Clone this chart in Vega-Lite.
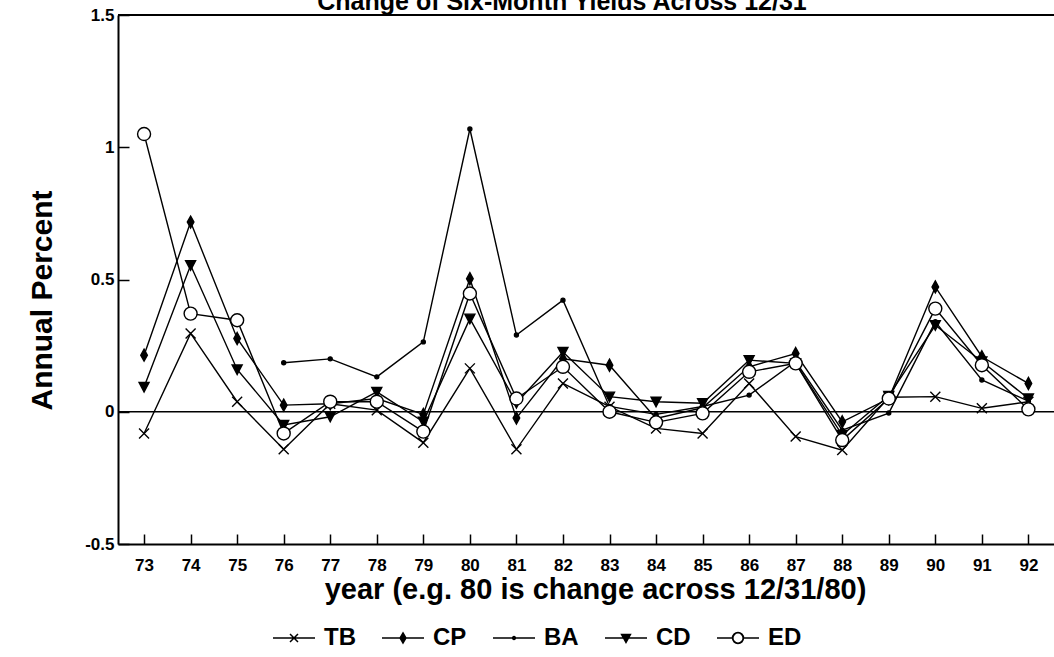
{
  "$schema": "https://vega.github.io/schema/vega-lite/v6.json",
  "width": 936,
  "height": 529,
  "autosize": {"type": "none"},
  "padding": {"left": 118, "top": 15, "right": 0, "bottom": 113},
  "background": "white",
  "view": {"stroke": null},
  "title": {
    "text": "Change of Six-Month Yields Across 12/31",
    "font": "Liberation Sans",
    "fontSize": 25,
    "fontWeight": "bold",
    "color": "black",
    "baseline": "alphabetic",
    "anchor": "middle",
    "dx": -24,
    "offset": -3,
    "dy": 26
  },
  "config": {
    "font": "Liberation Sans",
    "axis": {
      "grid": false,
      "domainColor": "black",
      "domainWidth": 2,
      "tickColor": "black",
      "tickWidth": 1.5,
      "labelColor": "black",
      "labelFont": "Liberation Sans",
      "labelFontWeight": "bold",
      "labelFontSize": 17,
      "titleColor": "black",
      "titleFont": "Liberation Sans",
      "titleFontWeight": "bold"
    },
    "legend": {
      "orient": "none",
      "legendX": 154,
      "legendY": 601,
      "direction": "horizontal",
      "labelFont": "Liberation Sans",
      "labelFontWeight": "bold",
      "labelFontSize": 24,
      "labelColor": "black",
      "symbolSize": 1764,
      "labelOffset": 8,
      "columnPadding": 23,
      "padding": 0
    }
  },
  "resolve": {"scale": {"shape": "independent"}, "legend": {"shape": "independent"}},
  "layer": [
    {
      "data": {"values": [{}]},
      "mark": {"type": "rule", "color": "black", "strokeWidth": 2},
      "encoding": {"y": {"datum": 1.5, "type": "quantitative", "scale": {"domain": [-0.5, 1.5], "nice": false, "zero": false}}}
    },
    {
      "data": {"values": [{}]},
      "mark": {"type": "rule", "color": "black", "strokeWidth": 1.5},
      "encoding": {"y": {"datum": 0, "type": "quantitative"}}
    },
    {
      "data": {"name": "yields"},
      "mark": {"type": "line", "color": "black", "strokeWidth": 1.4},
      "encoding": {
        "x": {"field": "year", "type": "quantitative",
          "scale": {"domain": [72.44, 92.55], "nice": false, "zero": false},
          "axis": {"values": [73,74,75,76,77,78,79,80,81,82,83,84,85,86,87,88,89,90,91,92], "format": "d", "tickSize": -10, "labelPadding": 23, "title": "year (e.g. 80 is change across 12/31/80)", "titleFontSize": 29, "titlePadding": 2, "titleX": 477}},
        "y": {"field": "value", "type": "quantitative",
          "axis": {"values": [-0.5, 0, 0.5, 1, 1.5], "labelExpr": "'' + datum.value", "tickSize": -11, "labelPadding": 15, "title": "Annual Percent", "titleFontSize": 30, "titleX": -76, "titleY": 285, "titleBaseline": "middle", "titleAlign": "center", "titleAngle": -90}},
        "detail": {"field": "series"}
      }
    },
    {
      "data": {"name": "yields"},
      "mark": {"type": "point", "filled": true, "stroke": "black", "strokeWidth": 1.4, "opacity": 1},
      "encoding": {
        "x": {"field": "year", "type": "quantitative"},
        "y": {"field": "value", "type": "quantitative"},
        "shape": {"field": "series", "type": "nominal",
          "scale": {"domain": ["TB", "CP", "BA", "CD", "ED"],
            "range": ["M-1,-1L1,1M-1,1L1,-1", "M0,-1L0.55,0L0,1L-0.55,0Z", "circle", "M-1,-0.9H1L0,1Z", "circle"]},
          "legend": null},
        "fill": {"condition": {"test": "datum.series === 'ED'", "value": "white"}, "value": "black"},
        "size": {"condition": [
          {"test": "datum.series === 'TB'", "value": 100},
          {"test": "datum.series === 'CP'", "value": 144},
          {"test": "datum.series === 'BA'", "value": 16},
          {"test": "datum.series === 'CD'", "value": 100}
        ], "value": 169}
      }
    },
    {
      "data": {"name": "yields"},
      "transform": [{"filter": "false"}],
      "mark": {"type": "point", "filled": true, "fill": "black", "stroke": "black", "strokeWidth": 1.3, "opacity": 1},
      "encoding": {
        "x": {"field": "year", "type": "quantitative"},
        "y": {"field": "value", "type": "quantitative"},
        "shape": {"field": "series", "type": "nominal",
          "scale": {"domain": ["TB", "CP", "BA", "CD", "ED"],
            "range": [
              "M-1,0H1M-0.19,-0.19L0.19,0.19M-0.19,0.19L0.19,-0.19",
              "M-1,0H1M0,-0.24L0.14,0L0,0.24L-0.14,0Z",
              "M-1,0H1M0.07,0A0.07,0.07 0 1 1 -0.07,0A0.07,0.07 0 1 1 0.07,0Z",
              "M-1,0H1M-0.21,-0.17H0.21L0,0.21Z",
              "M-1,0H-0.26M0.26,0H1M0.26,0A0.26,0.26 0 1 1 -0.26,0A0.26,0.26 0 1 1 0.26,0ZM0.245,0A0.245,0.245 0 1 0 -0.245,0A0.245,0.245 0 1 0 0.245,0Z"
            ]},
          "legend": {"title": null}}
      }
    }
  ],
  "datasets": {
    "yields": [
      {"year": 73, "series": "TB", "value": -0.082},
      {"year": 74, "series": "TB", "value": 0.296},
      {"year": 75, "series": "TB", "value": 0.038},
      {"year": 76, "series": "TB", "value": -0.142},
      {"year": 77, "series": "TB", "value": 0.03},
      {"year": 78, "series": "TB", "value": 0.006},
      {"year": 79, "series": "TB", "value": -0.117},
      {"year": 80, "series": "TB", "value": 0.164},
      {"year": 81, "series": "TB", "value": -0.142},
      {"year": 82, "series": "TB", "value": 0.107},
      {"year": 83, "series": "TB", "value": 0.019},
      {"year": 84, "series": "TB", "value": -0.063},
      {"year": 85, "series": "TB", "value": -0.082},
      {"year": 86, "series": "TB", "value": 0.107},
      {"year": 87, "series": "TB", "value": -0.094},
      {"year": 88, "series": "TB", "value": -0.145},
      {"year": 89, "series": "TB", "value": 0.055},
      {"year": 90, "series": "TB", "value": 0.057},
      {"year": 91, "series": "TB", "value": 0.013},
      {"year": 92, "series": "TB", "value": 0.038},
      {"year": 73, "series": "CP", "value": 0.214},
      {"year": 74, "series": "CP", "value": 0.717},
      {"year": 75, "series": "CP", "value": 0.277},
      {"year": 76, "series": "CP", "value": 0.025},
      {"year": 77, "series": "CP", "value": 0.03},
      {"year": 78, "series": "CP", "value": 0.05},
      {"year": 79, "series": "CP", "value": -0.01},
      {"year": 80, "series": "CP", "value": 0.503},
      {"year": 81, "series": "CP", "value": -0.024},
      {"year": 82, "series": "CP", "value": 0.2},
      {"year": 83, "series": "CP", "value": 0.176},
      {"year": 84, "series": "CP", "value": -0.025},
      {"year": 85, "series": "CP", "value": 0.015},
      {"year": 86, "series": "CP", "value": 0.17},
      {"year": 87, "series": "CP", "value": 0.22},
      {"year": 88, "series": "CP", "value": -0.038},
      {"year": 89, "series": "CP", "value": 0.05},
      {"year": 90, "series": "CP", "value": 0.472},
      {"year": 91, "series": "CP", "value": 0.208},
      {"year": 92, "series": "CP", "value": 0.107},
      {"year": 76, "series": "BA", "value": 0.185},
      {"year": 77, "series": "BA", "value": 0.2},
      {"year": 78, "series": "BA", "value": 0.132},
      {"year": 79, "series": "BA", "value": 0.264},
      {"year": 80, "series": "BA", "value": 1.069},
      {"year": 81, "series": "BA", "value": 0.29},
      {"year": 82, "series": "BA", "value": 0.422},
      {"year": 83, "series": "BA", "value": 0.02},
      {"year": 84, "series": "BA", "value": -0.01},
      {"year": 85, "series": "BA", "value": 0.02},
      {"year": 86, "series": "BA", "value": 0.063},
      {"year": 87, "series": "BA", "value": 0.19},
      {"year": 88, "series": "BA", "value": -0.07},
      {"year": 89, "series": "BA", "value": -0.005},
      {"year": 90, "series": "BA", "value": 0.34},
      {"year": 91, "series": "BA", "value": 0.12},
      {"year": 92, "series": "BA", "value": 0.04},
      {"year": 73, "series": "CD", "value": 0.094},
      {"year": 74, "series": "CD", "value": 0.554},
      {"year": 75, "series": "CD", "value": 0.16},
      {"year": 76, "series": "CD", "value": -0.05},
      {"year": 77, "series": "CD", "value": -0.019},
      {"year": 78, "series": "CD", "value": 0.075},
      {"year": 79, "series": "CD", "value": -0.038},
      {"year": 80, "series": "CD", "value": 0.352},
      {"year": 81, "series": "CD", "value": 0.033},
      {"year": 82, "series": "CD", "value": 0.226},
      {"year": 83, "series": "CD", "value": 0.057},
      {"year": 84, "series": "CD", "value": 0.038},
      {"year": 85, "series": "CD", "value": 0.032},
      {"year": 86, "series": "CD", "value": 0.195},
      {"year": 87, "series": "CD", "value": 0.183},
      {"year": 88, "series": "CD", "value": -0.088},
      {"year": 89, "series": "CD", "value": 0.06},
      {"year": 90, "series": "CD", "value": 0.327},
      {"year": 91, "series": "CD", "value": 0.19},
      {"year": 92, "series": "CD", "value": 0.05},
      {"year": 73, "series": "ED", "value": 1.05},
      {"year": 74, "series": "ED", "value": 0.371},
      {"year": 75, "series": "ED", "value": 0.346},
      {"year": 76, "series": "ED", "value": -0.082},
      {"year": 77, "series": "ED", "value": 0.038},
      {"year": 78, "series": "ED", "value": 0.038},
      {"year": 79, "series": "ED", "value": -0.075},
      {"year": 80, "series": "ED", "value": 0.447},
      {"year": 81, "series": "ED", "value": 0.05},
      {"year": 82, "series": "ED", "value": 0.17},
      {"year": 83, "series": "ED", "value": 0.0},
      {"year": 84, "series": "ED", "value": -0.04},
      {"year": 85, "series": "ED", "value": -0.006},
      {"year": 86, "series": "ED", "value": 0.151},
      {"year": 87, "series": "ED", "value": 0.183},
      {"year": 88, "series": "ED", "value": -0.107},
      {"year": 89, "series": "ED", "value": 0.05},
      {"year": 90, "series": "ED", "value": 0.39},
      {"year": 91, "series": "ED", "value": 0.176},
      {"year": 92, "series": "ED", "value": 0.009}
    ]
  }
}
